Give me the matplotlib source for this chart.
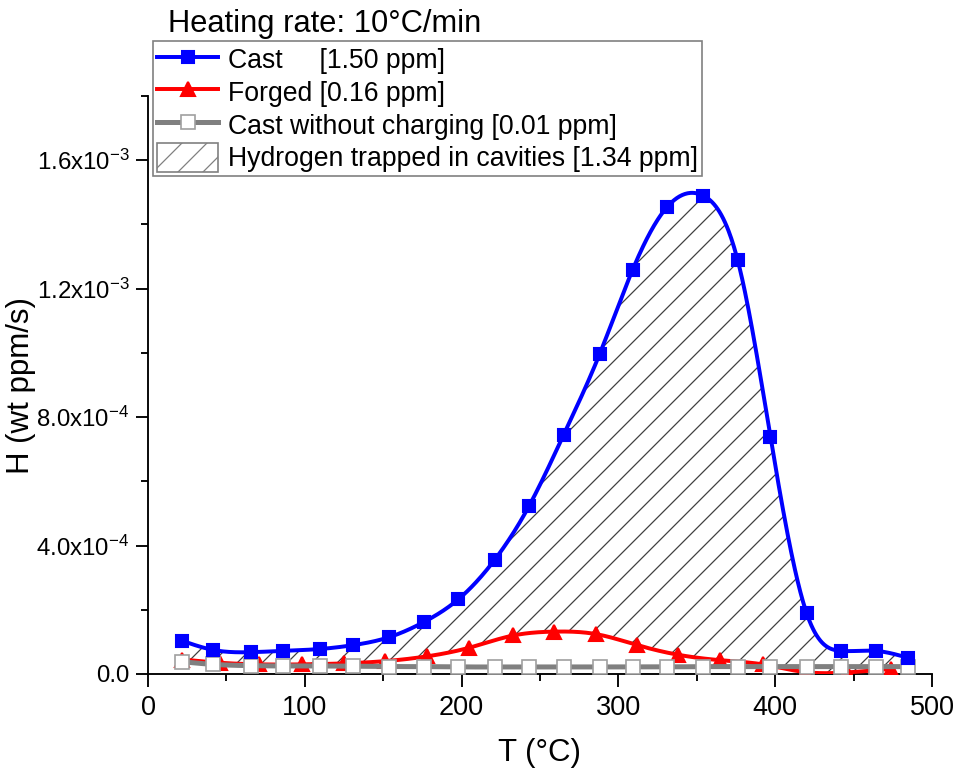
import numpy as np
import matplotlib
matplotlib.use("Agg")
import matplotlib.pyplot as plt
from matplotlib.lines import Line2D
from matplotlib.patches import Patch
from matplotlib.ticker import MultipleLocator, FixedLocator, FixedFormatter

plt.rcParams['font.family'] = ['Liberation Sans', 'DejaVu Sans']
plt.rcParams['mathtext.fontset'] = 'custom'
plt.rcParams['mathtext.rm'] = 'Liberation Sans'
plt.rcParams['mathtext.it'] = 'Liberation Sans:italic'
plt.rcParams['mathtext.bf'] = 'Liberation Sans:bold'
plt.rcParams['hatch.linewidth'] = 0.6
plt.rcParams['hatch.color'] = '#404040'

# ---- data ----
cast_T = [22, 41.5, 66, 86, 110, 131, 154, 176, 198, 221, 243, 265, 288, 309,
          331, 354, 376, 397, 420, 442, 464, 485]
cast_H = [1.03e-4, 0.75e-4, 0.68e-4, 0.72e-4, 0.78e-4, 0.90e-4, 1.15e-4, 1.62e-4,
          2.33e-4, 3.55e-4, 5.23e-4, 7.44e-4, 9.96e-4, 1.258e-3, 1.454e-3, 1.49e-3,
          1.29e-3, 7.38e-4, 1.90e-4, 0.72e-4, 0.72e-4, 0.50e-4]

forged_T = [22, 46, 71, 98, 125, 151, 178, 205, 233, 259, 286, 312, 338, 365,
            392, 419, 446, 474]
forged_H = [4.5e-5, 3.5e-5, 3.0e-5, 3.0e-5, 3.3e-5, 4.0e-5, 5.5e-5, 8.2e-5,
            12.0e-5, 13.2e-5, 12.4e-5, 9.0e-5, 6.0e-5, 4.3e-5, 3.0e-5, 0.6e-5,
            0.5e-5, 1.6e-5]

nocharge_T = cast_T
nocharge_H = [3.8e-5, 3.0e-5, 2.6e-5, 2.5e-5, 2.5e-5, 2.4e-5, 2.3e-5, 2.3e-5,
              2.2e-5, 2.2e-5, 2.2e-5, 2.2e-5, 2.2e-5, 2.2e-5, 2.2e-5, 2.3e-5,
              2.3e-5, 2.3e-5, 2.3e-5, 2.3e-5, 2.3e-5, 2.3e-5]

ytick_vals = [0.0, 4.0e-4, 8.0e-4, 1.2e-3, 1.6e-3]
ytick_labels = ['0.0', r'4.0x10$^{\mathregular{-4}}$', r'8.0x10$^{\mathregular{-4}}$',
                r'1.2x10$^{\mathregular{-3}}$', r'1.6x10$^{\mathregular{-3}}$']
labels = ['Cast     [1.50 ppm]', 'Forged [0.16 ppm]',
          'Cast without charging [0.01 ppm]', 'Hydrogen trapped in cavities [1.34 ppm]']


def natural_spline(x, y, xs):
    x = np.asarray(x, float)
    y = np.asarray(y, float)
    n = len(x)
    h = np.diff(x)
    A = np.zeros((n, n))
    b = np.zeros(n)
    A[0, 0] = 1
    A[-1, -1] = 1
    for i in range(1, n - 1):
        A[i, i - 1] = h[i - 1]
        A[i, i] = 2 * (h[i - 1] + h[i])
        A[i, i + 1] = h[i]
        b[i] = 6 * ((y[i + 1] - y[i]) / h[i] - (y[i] - y[i - 1]) / h[i - 1])
    M = np.linalg.solve(A, b)
    idx = np.clip(np.searchsorted(x, xs) - 1, 0, n - 2)
    x0, x1 = x[idx], x[idx + 1]
    hh = x1 - x0
    t0 = x1 - xs
    t1 = xs - x0
    return (M[idx] * t0 ** 3 / (6 * hh) + M[idx + 1] * t1 ** 3 / (6 * hh)
            + (y[idx] / hh - M[idx] * hh / 6) * t0
            + (y[idx + 1] / hh - M[idx + 1] * hh / 6) * t1)


DPI = 150
fig = plt.figure(figsize=(957 / DPI, 769 / DPI), dpi=DPI)
ax = fig.add_axes([148 / 957, 1 - 674 / 769, (932 - 148) / 957, (674 - 96) / 769])

xc = np.linspace(cast_T[0], cast_T[-1], 800)
yc = natural_spline(cast_T, cast_H, xc)
xf = np.linspace(forged_T[0], forged_T[-1], 800)
yf = natural_spline(forged_T, forged_H, xf)
xn = np.linspace(nocharge_T[0], nocharge_T[-1], 800)
yn = natural_spline(nocharge_T, nocharge_H, xn)

yf_on_c = np.interp(xc, xf, yf)
ax.fill_between(xc, yf_on_c, yc, facecolor='none', edgecolor='#404040',
                hatch='//', linewidth=0, zorder=1)

ax.plot(xf, yf, color='#ff0000', lw=1.9, zorder=3)
ax.plot(forged_T, forged_H, ls='none', marker='^', ms=7, color='#ff0000', zorder=3)
ax.plot(xn, yn, color='#808080', lw=2.4, zorder=4)
ax.plot(nocharge_T, nocharge_H, ls='none', marker='s', ms=6.3, mfc='white',
        mec='#a0a0a0', mew=0.8, zorder=4)
ax.plot(xc, yc, color='#0000ff', lw=1.9, zorder=5)
ax.plot(cast_T, cast_H, ls='none', marker='s', ms=6.0, color='#0000ff', zorder=5)

ax.set_xlim(0, 500)
ax.set_ylim(0, 1.8e-3)
ax.spines['top'].set_visible(False)
ax.spines['right'].set_visible(False)
for s in ['left', 'bottom']:
    ax.spines[s].set_linewidth(0.9)

ax.xaxis.set_major_locator(MultipleLocator(100))
ax.xaxis.set_minor_locator(MultipleLocator(50))
ax.yaxis.set_major_locator(FixedLocator(ytick_vals))
ax.yaxis.set_major_formatter(FixedFormatter(ytick_labels))
ax.yaxis.set_minor_locator(MultipleLocator(2e-4))
ax.tick_params(which='major', direction='out', length=6, width=0.9)
ax.tick_params(which='minor', direction='out', length=3.5, width=0.9)
ax.tick_params(axis='x', labelsize=13, pad=4)
ax.tick_params(axis='y', labelsize=11.5, pad=3)

ax.set_xlabel('T (°C)', fontsize=15, labelpad=8)
ax.set_ylabel('H (wt ppm/s)', fontsize=15)
ax.yaxis.set_label_coords((36 - 148) / 784, 0.5)

fig.text(168 / 957, 1 - 32 / 769, 'Heating rate: 10°C/min', fontsize=14.8,
         ha='left', va='baseline')

handles = [
    Line2D([], [], color='#0000ff', lw=1.9, marker='s', ms=6.0),
    Line2D([], [], color='#ff0000', lw=1.9, marker='^', ms=7),
    Line2D([], [], color='#808080', lw=2.4, marker='s', ms=6.3, mfc='white',
           mec='#a0a0a0', mew=0.8),
    Patch(facecolor='white', edgecolor='#808080', hatch='//', linewidth=0.8),
]
leg = ax.legend(handles, labels, loc='upper left',
                bbox_to_anchor=(153 / 957, 1 - 41 / 769),
                bbox_transform=fig.transFigure, borderaxespad=0,
                fontsize=12.8, frameon=True, fancybox=False, framealpha=1,
                edgecolor='#808080', borderpad=0.15, labelspacing=0.12,
                handlelength=2.3, handletextpad=0.35, handleheight=1.3)
leg.get_frame().set_linewidth(0.8)

fig.savefig('out.png', dpi=DPI)
